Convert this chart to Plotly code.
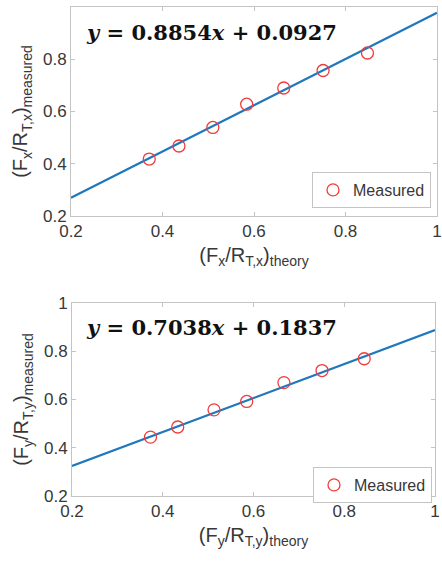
import plotly.graph_objects as go

# Data
x_theory_x = [0.371, 0.436, 0.510, 0.584, 0.665, 0.751, 0.848]
y_meas_x = [0.418, 0.468, 0.539, 0.628, 0.690, 0.757, 0.824]
x_theory_y = [0.373, 0.433, 0.513, 0.585, 0.667, 0.751, 0.844]
y_meas_y = [0.444, 0.486, 0.557, 0.592, 0.670, 0.720, 0.769]
fit_x = [0.8854, 0.0927]   # slope, intercept
fit_y = [0.7038, 0.1837]
line_x = [0.2, 1.0]
ticks = [0.2, 0.4, 0.6, 0.8, 1]
tick_text = ["0.2", "0.4", "0.6", "0.8", "1"]

W, H = 442, 567
RED = "#f03c3c"
BLUE = "#1f77bd"
AX = "#c4c4c4"
TXT = "#383838"

fig = go.Figure()

fig.add_trace(go.Scatter(x=line_x, y=[fit_x[0] * v + fit_x[1] for v in line_x],
                         mode="lines", line=dict(color=BLUE, width=2.2),
                         showlegend=False, xaxis="x", yaxis="y"))
fig.add_trace(go.Scatter(x=x_theory_x, y=y_meas_x, mode="markers", name="Measured",
                         marker=dict(symbol="circle-open", size=12, color=RED,
                                     line=dict(width=1.3, color=RED)),
                         xaxis="x", yaxis="y", legend="legend"))
fig.add_trace(go.Scatter(x=line_x, y=[fit_y[0] * v + fit_y[1] for v in line_x],
                         mode="lines", line=dict(color=BLUE, width=2.2),
                         showlegend=False, xaxis="x2", yaxis="y2"))
fig.add_trace(go.Scatter(x=x_theory_y, y=y_meas_y, mode="markers", name="Measured",
                         marker=dict(symbol="circle-open", size=12, color=RED,
                                     line=dict(width=1.3, color=RED)),
                         xaxis="x2", yaxis="y2", legend="legend2"))

def px_x(v):
    return v / W

def px_y(v):
    return 1 - v / H

axis_common = dict(range=[0.2, 1], tickvals=ticks, ticktext=tick_text,
                   showgrid=False, zeroline=False, showline=True, linecolor=AX,
                   linewidth=1, mirror="ticks", ticks="inside", ticklen=4,
                   tickcolor=AX, automargin=False,
                   tickfont=dict(family="Liberation Sans", size=17, color=TXT))

title_font = dict(family="Liberation Sans", size=20, color=TXT)
top = (7, 216)
bot = (303, 496)

fig.update_layout(
    width=W, height=H, autosize=False,
    margin=dict(l=0, r=0, t=0, b=0),
    paper_bgcolor="white", plot_bgcolor="white",
    xaxis=dict(domain=[px_x(71), px_x(437)], anchor="y",
               title=dict(text="(F<sub>x</sub>/R<sub>T,x</sub>)<sub>theory</sub>",
                          font=title_font, standoff=7),
               **axis_common),
    yaxis=dict(domain=[px_y(top[1]), px_y(top[0])], anchor="x",
               title=dict(text="(F<sub>x</sub>/R<sub>T,x</sub>)<sub>measured</sub>",
                          font=title_font, standoff=9),
               **axis_common),
    xaxis2=dict(domain=[px_x(72), px_x(435)], anchor="y2",
                title=dict(text="(F<sub>y</sub>/R<sub>T,y</sub>)<sub>theory</sub>",
                           font=title_font, standoff=7),
                **axis_common),
    yaxis2=dict(domain=[px_y(bot[1]), px_y(bot[0])], anchor="x2",
                title=dict(text="(F<sub>y</sub>/R<sub>T,y</sub>)<sub>measured</sub>",
                           font=title_font, standoff=9),
                **axis_common),
    legend=dict(x=px_x(431), y=px_y(172), xanchor="right", yanchor="top",
                bordercolor=AX, borderwidth=1, bgcolor="white",
                font=dict(family="Liberation Sans", size=16, color=TXT),
                itemwidth=30, tracegroupgap=0),
    legend2=dict(x=px_x(432), y=px_y(467), xanchor="right", yanchor="top",
                 bordercolor=AX, borderwidth=1, bgcolor="white",
                 font=dict(family="Liberation Sans", size=16, color=TXT),
                 itemwidth=30, tracegroupgap=0),
)

eq_font = dict(family="DejaVu Serif", size=21, color="#111111")
fig.add_annotation(xref="paper", yref="paper", x=px_x(84), y=px_y(32),
                   xanchor="left", yanchor="middle", showarrow=False,
                   text="<b><i>y</i> = %.4f<i>x</i> + %.4f</b>" % (fit_x[0], fit_x[1]),
                   font=eq_font)
fig.add_annotation(xref="paper", yref="paper", x=px_x(84), y=px_y(327),
                   xanchor="left", yanchor="middle", showarrow=False,
                   text="<b><i>y</i> = %.4f<i>x</i> + %.4f</b>" % (fit_y[0], fit_y[1]),
                   font=eq_font)

fig.write_html("out.html")
